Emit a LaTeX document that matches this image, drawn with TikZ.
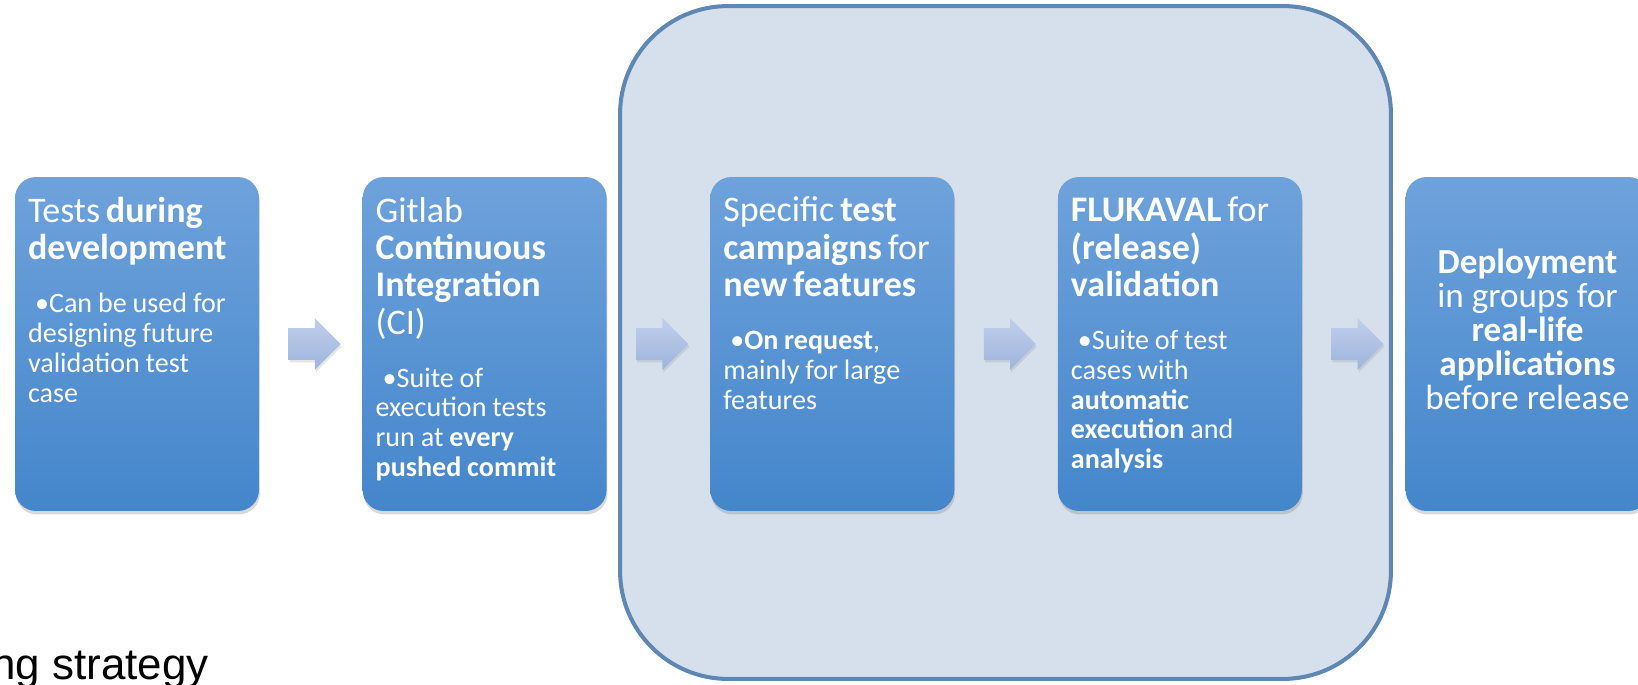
\documentclass[tikz,border=0pt]{standalone}
\usepackage{fontspec}
\setmainfont{Carlito}
\newfontfamily\arialfont{Liberation Sans}
\usetikzlibrary{positioning, shapes.arrows, shadows}

\definecolor{boxtop}{RGB}{110,162,219}
\definecolor{boxbot}{RGB}{68,134,203}
\definecolor{arrtop}{RGB}{192,206,236}
\definecolor{arrbot}{RGB}{158,180,221}
\definecolor{grpfill}{RGB}{214,224,236}
\definecolor{grpline}{RGB}{94,135,180}

\newcommand{\titlefont}{\fontsize{20.5}{21.3}\selectfont}
\newcommand{\itemfont}{\fontsize{16}{17}\selectfont}
\newcommand{\itempar}[1]{\par\vspace{13pt}\itemfont\noindent
  \setbox0\hbox{\textbullet}\hangindent=\dimexpr0.14cm+\wd0\relax
  \hangafter=1\hspace*{0.14cm}\textbullet#1\par}

\begin{document}
\begin{tikzpicture}[x=0.02cm, y=-0.02cm, node distance=2.06cm,
  stage/.style={rectangle, rounded corners=0.42cm, minimum width=4.88cm,
    minimum height=6.68cm, inner sep=0pt, top color=boxtop, bottom color=boxbot,
    drop shadow={opacity=0.3, shadow xshift=0.5pt, shadow yshift=-2pt}},
  stagetext/.style={text=white, text width=4.5cm, align=left, inner sep=0pt},
  nxt/.style={single arrow, single arrow head extend=0.2cm, minimum height=1.04cm,
    inner xsep=0pt, inner ysep=0.31cm, top color=arrtop, bottom color=arrbot,
    drop shadow={opacity=0.2, shadow xshift=0.5pt, shadow yshift=-1.5pt}},
  grp/.style={rectangle, rounded corners=2.16cm, minimum width=15.42cm,
    minimum height=13.46cm, fill=grpfill, draw=grpline, line width=2.3pt}]

  \useasboundingbox (0,0) rectangle (1638,685);

  % Marco de la validacion.
  \node[grp] (grp) at (1005.5,342.5) {};

  % Etapas.
  \node[stage] (b1) at (137,344) {};
  \node[stage, right=of b1] (b2) {};
  \node[stage, right=of b2] (b3) {};
  \node[stage, right=of b3] (b4) {};
  \node[stage, right=of b4] (b5) {};

  % Flechas entre etapas.
  \node[nxt, right=0.58cm of b1] (a1) {};
  \node[nxt, right=0.58cm of b2] (a2) {};
  \node[nxt, right=0.58cm of b3] (a3) {};
  \node[nxt, right=0.58cm of b4] (a4) {};

  % Textos de las etapas.
  \node[stagetext, below right=0.4cm and 0.26cm of b1.north west] (t1)
    {\titlefont Tests \textbf{during}\\ \textbf{development}
     \itempar{Can be used for\\ designing future\\ validation test\\ case}};
  \node[stagetext, below right=0.4cm and 0.26cm of b2.north west] (t2)
    {\titlefont Gitlab\\ \textbf{Continuous}\\ \textbf{Integration}\\ (CI)
     \itempar{Suite of\\ execution tests\\ run at \textbf{every}\\
       \textbf{pushed commit}}};
  \node[stagetext, below right=0.4cm and 0.26cm of b3.north west] (t3)
    {\titlefont Specific \textbf{test}\\ \textbf{campaigns} for\\ \textbf{new features}
     \itempar{\textbf{On request},\\ mainly for large\\ features}};
  \node[stagetext, below right=0.4cm and 0.26cm of b4.north west] (t4)
    {\titlefont \textbf{FLUKAVAL} for\\ \textbf{(release)}\\ \textbf{validation}
     \itempar{Suite of test\\ cases with\\ \textbf{automatic}\\
       \textbf{execution} and\\ \textbf{analysis}}};
  \node[text=white, align=center, inner sep=0pt, yshift=0.3cm,
        font=\fontsize{20}{19.3}\selectfont] (t5) at (b5)
    {\textbf{Deployment}\\ in groups for\\ \textbf{real-life}\\
     \textbf{applications}\\ before release};

  % Titulo cortado.
  \node[anchor=base east, inner sep=0pt,
        font=\arialfont\fontsize{25}{25}\selectfont] (cap) at (209,679)
    {ng strategy};

\end{tikzpicture}
\end{document}
